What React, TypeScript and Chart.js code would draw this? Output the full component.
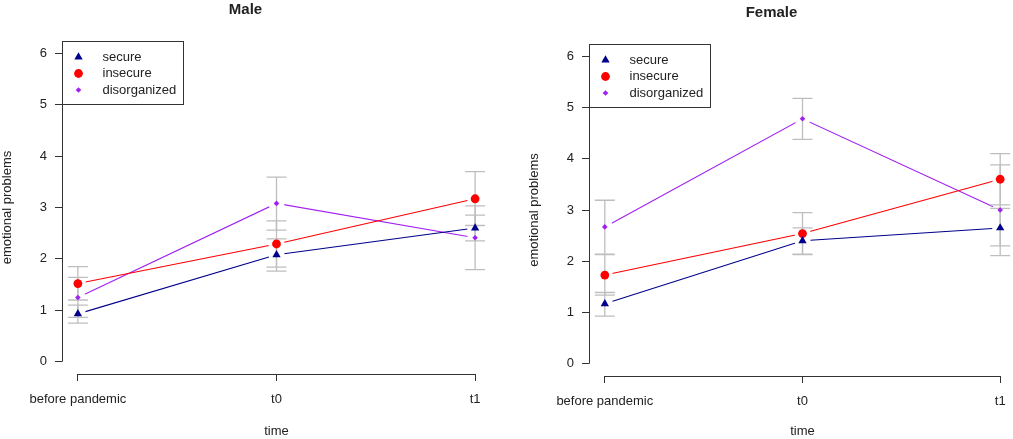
import { useEffect, useRef } from 'react';
import { Chart, registerables } from 'chart.js';
import { drawPoint } from 'chart.js/helpers';

Chart.register(...registerables);

// categories on the x axis (plotted at 1, 2, 3)
const timeLabels = ['before pandemic', 't0', 't1'];
const timeIndex = [1, 2, 3];
const yTicks = [0, 1, 2, 3, 4, 5, 6];

// Male
const maleSecure = [0.93, 2.08, 2.6];
const maleSecureLow = [0.75, 1.76, 2.35];
const maleSecureHigh = [1.1, 2.39, 2.85];
const maleInsecure = [1.52, 2.29, 3.17];
const maleInsecureLow = [1.2, 1.84, 2.65];
const maleInsecureHigh = [1.85, 2.74, 3.7];
const maleDisorg = [1.25, 3.08, 2.41];
const maleDisorgLow = [0.86, 2.56, 1.79];
const maleDisorgHigh = [1.64, 3.59, 3.03];

// Female
const femaleSecure = [1.17, 2.4, 2.65];
const femaleSecureLow = [0.93, 2.14, 2.3];
const femaleSecureHigh = [1.39, 2.65, 3.03];
const femaleInsecure = [1.73, 2.54, 3.6];
const femaleInsecureLow = [1.34, 2.13, 3.1];
const femaleInsecureHigh = [2.13, 2.95, 4.1];
const femaleDisorg = [2.67, 4.78, 3.0];
const femaleDisorgLow = [2.14, 4.38, 2.11];
const femaleDisorgHigh = [3.19, 5.18, 3.88];

const FONT = "'Liberation Sans', Arial, sans-serif";
const TEXT = '#222';
const AXIS = '#333';

Chart.defaults.font.family = FONT;
Chart.defaults.font.size = 13;
Chart.defaults.color = TEXT;

const seriesStyle = [
  { label: 'secure', color: '#00008B', pointStyle: 'triangle', radius: 4.8 },
  { label: 'insecure', color: '#FF0000', pointStyle: 'circle', radius: 4.4 },
  { label: 'disorganized', color: '#A020F0', pointStyle: 'rectRot', radius: 2.8 },
];

type Series = { values: number[]; low: number[]; high: number[] };

const toPoints = (values: number[]) => values.map((v, j) => ({ x: timeIndex[j], y: v }));

function buildDatasets(series: Series[]) {
  // markers first (drawn on top), then the lines with white gaps round the points
  const markers = series.map((s, i) => ({
    label: seriesStyle[i].label,
    data: toPoints(s.values),
    showLine: false,
    pointStyle: seriesStyle[i].pointStyle,
    pointRadius: seriesStyle[i].radius,
    pointBackgroundColor: seriesStyle[i].color,
    pointBorderWidth: 0,
    errLow: s.low,
    errHigh: s.high,
    order: 0,
  }));
  const lines = series.map((s, i) => ({
    label: seriesStyle[i].label + ' line',
    data: toPoints(s.values),
    showLine: true,
    borderColor: seriesStyle[i].color,
    borderWidth: 1.1,
    pointStyle: 'circle',
    pointRadius: 8,
    pointBackgroundColor: '#fff',
    pointBorderWidth: 0,
    order: 1,
  }));
  return [...markers, ...lines];
}

const align = (v: number) => Math.round(v - 0.5) + 0.5;

// R style axis lines, only from first to last tick
const rAxes = {
  id: 'rAxes',
  beforeDatasetsDraw(chart: any) {
    const { ctx, chartArea, scales } = chart;
    const x = scales.x;
    const y = scales.y;
    ctx.save();
    ctx.strokeStyle = AXIS;
    ctx.lineWidth = 1;
    ctx.beginPath();
    const lx = align(chartArea.left);
    ctx.moveTo(lx, y.getPixelForValue(yTicks[0]));
    ctx.lineTo(lx, y.getPixelForValue(yTicks[yTicks.length - 1]));
    const by = align(chartArea.bottom);
    ctx.moveTo(x.getPixelForValue(timeIndex[0]), by);
    ctx.lineTo(x.getPixelForValue(timeIndex[timeIndex.length - 1]), by);
    ctx.stroke();
    ctx.restore();
  },
};

// error bars, drawn over the lines and under the markers
const errorBars = {
  id: 'errorBars',
  afterDatasetDraw(chart: any, args: any) {
    if (args.index !== 3) return;
    const { ctx, scales } = chart;
    ctx.save();
    ctx.strokeStyle = '#BEBEBE';
    ctx.lineWidth = 1.3;
    chart.data.datasets.forEach((ds: any) => {
      if (!ds.errLow) return;
      ds.data.forEach((p: any, j: number) => {
        const px = scales.x.getPixelForValue(p.x);
        const yl = scales.y.getPixelForValue(ds.errLow[j]);
        const yh = scales.y.getPixelForValue(ds.errHigh[j]);
        ctx.beginPath();
        ctx.moveTo(px, yl);
        ctx.lineTo(px, yh);
        ctx.moveTo(px - 10, yl);
        ctx.lineTo(px + 10, yl);
        ctx.moveTo(px - 10, yh);
        ctx.lineTo(px + 10, yh);
        ctx.stroke();
      });
    });
    ctx.restore();
  },
};

// boxed legend in the top left corner of the plot region
const boxLegend = {
  id: 'boxLegend',
  afterDraw(chart: any) {
    const { ctx, chartArea } = chart;
    const items = chart.data.datasets.filter((d: any) => d.errLow);
    const left = align(chartArea.left);
    const top = align(chartArea.top);
    ctx.save();
    ctx.fillStyle = '#fff';
    ctx.fillRect(left, top, 121, 63);
    ctx.strokeStyle = AXIS;
    ctx.lineWidth = 1;
    ctx.strokeRect(left, top, 121, 63);
    items.forEach((d: any, i: number) => {
      const cy = top + 15.5 + i * 16.5;
      ctx.fillStyle = d.pointBackgroundColor;
      drawPoint(ctx, { pointStyle: d.pointStyle, radius: d.pointRadius, borderWidth: 0, rotation: 0 } as any, left + 16, cy);
      ctx.fillStyle = TEXT;
      ctx.font = `13px ${FONT}`;
      ctx.textBaseline = 'middle';
      ctx.textAlign = 'left';
      ctx.fillText(d.label, left + 40, cy);
    });
    ctx.restore();
  },
};

type PanelProps = {
  title: string;
  series: Series[];
  left: number;
  width: number;
  padTop: number;
  xHeight: number;
};

const Panel = ({ title, series, left, width, padTop, xHeight }: PanelProps) => {
  const canvasRef = useRef<HTMLCanvasElement | null>(null);

  useEffect(() => {
    if (!canvasRef.current) return;
    const chart = new Chart(canvasRef.current, {
      type: 'line',
      data: { datasets: buildDatasets(series) as any },
      plugins: [rAxes, errorBars, boxLegend],
      options: {
        animation: false,
        responsive: true,
        maintainAspectRatio: false,
        events: [],
        layout: { padding: { left: 0, right: 15, top: padTop, bottom: 0 } },
        plugins: {
          legend: { display: false },
          tooltip: { enabled: false },
          title: {
            display: true,
            text: title,
            color: TEXT,
            font: { size: 15, weight: 'bold', family: FONT },
            padding: { top: 1, bottom: 22 },
          },
        },
        scales: {
          x: {
            type: 'linear',
            min: 0.92,
            max: 3.08,
            afterBuildTicks: (scale: any) => {
              scale.ticks = timeIndex.map((v) => ({ value: v }));
            },
            afterFit: (scale: any) => {
              scale.height = xHeight;
            },
            ticks: {
              autoSkip: false,
              maxRotation: 0,
              minRotation: 0,
              padding: 11,
              callback: (v: any) => timeLabels[timeIndex.indexOf(Number(v))] ?? '',
            },
            grid: { display: true, drawOnChartArea: false, drawTicks: true, tickLength: 7, color: AXIS },
            border: { display: false },
            title: { display: true, text: 'time', padding: { top: 0, bottom: 0 } },
          },
          y: {
            type: 'linear',
            min: -0.24,
            max: 6.24,
            afterBuildTicks: (scale: any) => {
              scale.ticks = yTicks.map((v) => ({ value: v }));
            },
            afterFit: (scale: any) => {
              scale.width = 62;
            },
            ticks: { padding: 8 },
            grid: { display: true, drawOnChartArea: false, drawTicks: true, tickLength: 7, color: AXIS },
            border: { display: false },
            title: { display: true, text: 'emotional problems', padding: { top: 0, bottom: 0 } },
          },
        },
      },
    });
    return () => chart.destroy();
  }, []);

  return (
    <div style={{ position: 'absolute', left, top: 0, width, height: 439 }}>
      <canvas ref={canvasRef} />
    </div>
  );
};

const maleSeries: Series[] = [
  { values: maleSecure, low: maleSecureLow, high: maleSecureHigh },
  { values: maleInsecure, low: maleInsecureLow, high: maleInsecureHigh },
  { values: maleDisorg, low: maleDisorgLow, high: maleDisorgHigh },
];

const femaleSeries: Series[] = [
  { values: femaleSecure, low: femaleSecureLow, high: femaleSecureHigh },
  { values: femaleInsecure, low: femaleInsecureLow, high: femaleInsecureHigh },
  { values: femaleDisorg, low: femaleDisorgLow, high: femaleDisorgHigh },
];

const App = () => {
  return (
    <div
      style={{
        position: 'absolute',
        left: 0,
        top: 0,
        width: 1013,
        height: 439,
        overflow: 'hidden',
        background: '#fff',
      }}
    >
      <Panel title="Male" series={maleSeries} left={0} width={506} padTop={0} xHeight={65} />
      <Panel title="Female" series={femaleSeries} left={527} width={504} padTop={3} xHeight={63} />
    </div>
  );
};

export default App;
